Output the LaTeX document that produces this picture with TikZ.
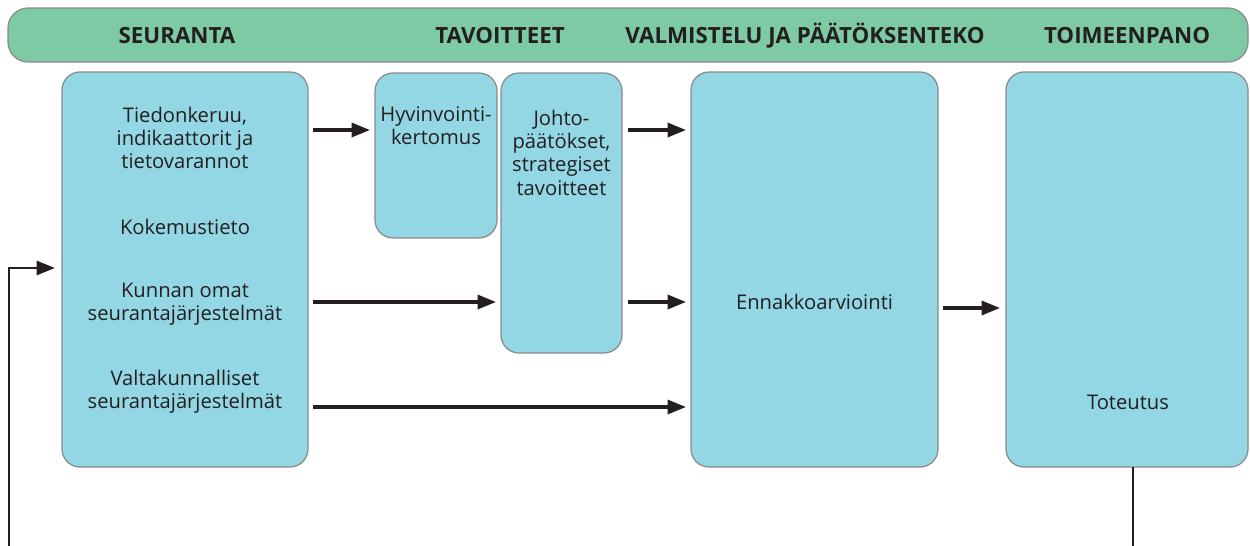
\documentclass[tikz,border=0pt]{standalone}
\usepackage{fontspec}
\setmainfont{Open Sans}
\usetikzlibrary{arrows.meta,calc}
\definecolor{hdrgreen}{HTML}{7DCAA4}
\definecolor{boxblue}{HTML}{92D7E3}
\definecolor{edgegray}{HTML}{8A8A8A}
\definecolor{txt}{HTML}{231F20}
\tikzset{
  box/.style 2 args={draw=edgegray, line width=0.7pt, fill=boxblue, rounded corners=0.36cm,
    minimum width={#1*0.02cm}, minimum height={#2*0.02cm}, inner sep=0pt, outer sep=0pt},
  hdrbox/.style={draw=edgegray, line width=0.7pt, fill=hdrgreen, rounded corners=0.4cm,
    minimum width={1240*0.02cm}, minimum height={54*0.02cm}, inner sep=0pt, outer sep=0pt},
  htext/.style={font=\fontsize{12.7}{15}\selectfont\bfseries, text=txt},
  btext/.style={font=\fontsize{11.5}{13.3}\selectfont, text=txt, align=center, inner sep=0pt},
  arr/.style={draw=txt, line width=1.8pt, -{Triangle[length=10.5pt,width=8pt]}},
  fbline/.style={draw=txt, line width=1.5pt, -{Triangle[length=10.5pt,width=8pt]}},
}
\begin{document}
\begin{tikzpicture}[x=0.02cm, y=-0.02cm]
\useasboundingbox (0,0) rectangle (1250,545);
% header
\node[hdrbox] (hdr) at (628,35) {};
\node[htext] (h1) at (177,36) {SEURANTA};
\node[htext] (h2) at (500,36) {TAVOITTEET};
\node[htext] (h3) at (805,36) {VALMISTELU JA PÄÄTÖKSENTEKO};
\node[htext] (h4) at (1127,36) {TOIMEENPANO};
% boxes
\node[box={246}{395}] (s) at (185,269.5) {};
\node[box={122}{165}] (h) at (436,155.5) {};
\node[box={121}{280}] (j) at (561.5,213) {};
\node[box={247}{395}] (e) at (814.5,269.5) {};
\node[box={242}{395}] (t) at (1127,269.5) {};
% texts
\node[btext] (s1) at (185,138) {Tiedonkeruu,\\indikaattorit ja\\tietovarannot};
\node[btext] (s2) at (185,227) {Kokemustieto};
\node[btext] (s3) at (185,304) {Kunnan omat\\seurantajärjestelmät};
\node[btext] (s4) at (185,392) {Valtakunnalliset\\seurantajärjestelmät};
\node[btext] (ht) at (436,125.5) {Hyvinvointi-\\kertomus};
\node[btext] (jt) at (561.5,152.5) {Johto-\\päätökset,\\strategiset\\tavoitteet};
\node[btext] (et) at (814.5,302) {Ennakkoarviointi};
\node[btext] (tt) at (1128,402) {Toteutus};
% arrows
\draw[arr] ([xshift=0.1cm]s.east |- 0,130) -- ([xshift=-0.1cm]h.west |- 0,130);
\draw[arr] ([xshift=0.12cm]j.east |- 0,130) -- ([xshift=-0.1cm]e.west |- 0,130);
\draw[arr] ([xshift=0.1cm]s.east |- 0,302) -- ([xshift=-0.1cm]j.west |- 0,302);
\draw[arr] ([xshift=0.12cm]j.east |- 0,302) -- ([xshift=-0.1cm]e.west |- 0,302);
\draw[arr] ([xshift=0.1cm]s.east |- 0,407) -- ([xshift=-0.1cm]e.west |- 0,407);
\draw[arr] ([xshift=0.1cm]e.east |- 0,308) -- ([xshift=-0.12cm]t.west |- 0,308);
% feedback loop
\coordinate (fb) at (9,580);
\draw[fbline] (t.south -| 1133,0) -- (1133,580) -- (fb) -- (fb |- 0,268) -- ([xshift=-0.14cm]s.west |- 0,268);
\end{tikzpicture}
\end{document}
